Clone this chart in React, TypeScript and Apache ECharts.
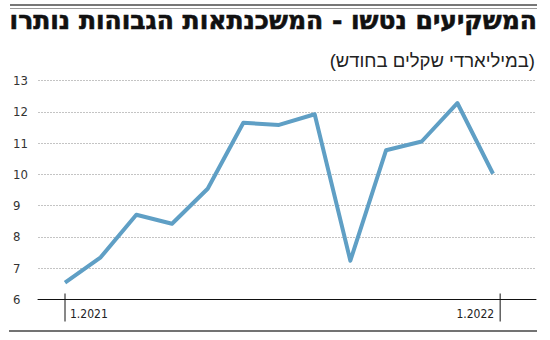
import React, { useEffect, useRef } from "react";
import * as echarts from "echarts";

const months = [
  "1.2021", "2.2021", "3.2021", "4.2021", "5.2021", "6.2021", "7.2021",
  "8.2021", "9.2021", "10.2021", "11.2021", "12.2021", "1.2022",
];
const values = [6.54, 7.35, 8.71, 8.42, 9.54, 11.65, 11.58, 11.92, 7.24, 10.77, 11.05, 12.28, 10.02];
const yTicks = [6, 7, 8, 9, 10, 11, 12, 13];
const tickLabels = ["1.2021", "1.2022"];
const title = "המשקיעים נטשו - המשכנתאות הגבוהות נותרו";
const subtitle = "(במיליארדי שקלים בחודש)";

const NUM_FONT = "'Liberation Sans Narrow', 'DejaVu Sans Condensed', Roboto, sans-serif";
const HEB_FONT = "'Liberation Sans', 'DejaVu Sans', sans-serif";
const TITLE_FONT = "'DejaVu Sans', 'Liberation Sans', sans-serif";

export default function App() {
  const ref = useRef<HTMLDivElement>(null);
  useEffect(() => {
    if (!ref.current) return;
    const chart = echarts.init(ref.current, undefined, { renderer: "svg" });
    const option: any = {
      animation: false,
      backgroundColor: "#ffffff",
      grid: { left: 38, right: 14, top: 80.5, bottom: 40.5, containLabel: false },
      xAxis: {
        type: "value",
        min: -0.757,
        max: 13.205,
        axisLine: { show: true, onZero: false, lineStyle: { color: "#111", width: 1 } },
        axisTick: { show: false },
        axisLabel: { show: false },
        splitLine: { show: false },
      },
      yAxis: {
        type: "value",
        min: yTicks[0],
        max: yTicks[yTicks.length - 1],
        interval: 1,
        axisLine: { show: false },
        axisTick: { show: false },
        axisLabel: {
          align: "left",
          margin: 25,
          color: "#333",
          fontSize: 13,
          fontFamily: NUM_FONT,
        },
        splitLine: { show: true, lineStyle: { color: "#c4c4c4", type: [2, 1], width: 1 } },
      },
      series: [
        {
          type: "line",
          data: values.map((v, i) => [i, v]),
          symbol: "none",
          lineStyle: { color: "#5f9fc5", width: 4, join: "round" },
        },
      ],
      graphic: [],
    };
    chart.setOption(option);

    const p0 = chart.convertToPixel({ gridIndex: 0 }, [0, yTicks[0]]) as number[];
    const p1 = chart.convertToPixel({ gridIndex: 0 }, [months.length - 1 + 0.2, yTicks[0]]) as number[];
    const axisY = p0[1];
    const graphic: any[] = [
      { type: "line", shape: { x1: 10, y1: 5, x2: 537, y2: 5 }, style: { stroke: "#777", lineWidth: 2 } },
      { type: "line", shape: { x1: 10, y1: 8.5, x2: 537, y2: 8.5 }, style: { stroke: "#999", lineWidth: 1 } },
      {
        type: "text",
        x: 537,
        y: 33,
        style: {
          text: title,
          align: "right",
          verticalAlign: "bottom",
          fontSize: 25,
          fontWeight: "bold",
          fontFamily: TITLE_FONT,
          fill: "#111",
          stroke: "#111",
          lineWidth: 0.6,
        },
      },
      {
        type: "text",
        x: 535,
        y: 60,
        style: {
          text: subtitle,
          align: "right",
          verticalAlign: "middle",
          fontSize: 18.5,
          fontFamily: HEB_FONT,
          fill: "#222",
        },
      },
      { type: "line", shape: { x1: p0[0], y1: axisY - 6, x2: p0[0], y2: axisY + 22 }, style: { stroke: "#111", lineWidth: 1 } },
      { type: "line", shape: { x1: p1[0], y1: axisY - 6, x2: p1[0], y2: axisY + 22 }, style: { stroke: "#111", lineWidth: 1 } },
      {
        type: "text",
        x: p0[0] + 5,
        y: axisY + 14,
        style: { text: tickLabels[0], align: "left", verticalAlign: "middle", fontSize: 12, fontFamily: NUM_FONT, fill: "#222" },
      },
      {
        type: "text",
        x: p1[0] - 6,
        y: axisY + 14,
        style: { text: tickLabels[1], align: "right", verticalAlign: "middle", fontSize: 12, fontFamily: NUM_FONT, fill: "#222" },
      },
      { type: "line", shape: { x1: 9, y1: 331, x2: 537, y2: 331 }, style: { stroke: "#444", lineWidth: 1.5 } },
    ];
    chart.setOption({ graphic });
    return () => chart.dispose();
  }, []);
  return <div ref={ref} style={{ width: 550, height: 340, position: "absolute", left: 0, top: 0 }} />;
}
